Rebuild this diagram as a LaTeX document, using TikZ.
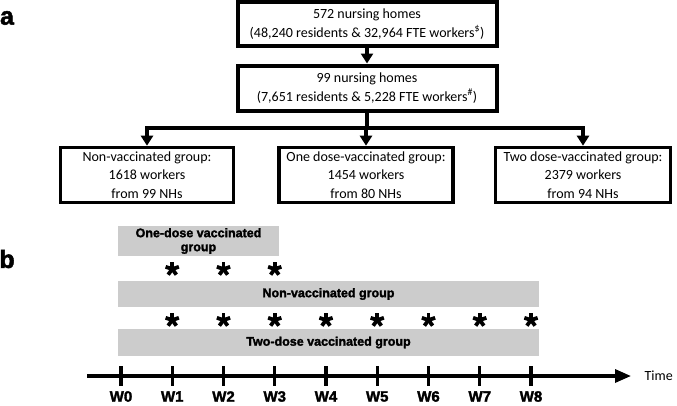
\documentclass[tikz,border=0pt]{standalone}
\usepackage{fontspec}
\setmainfont{Carlito}
\newfontfamily\arialfont{Liberation Sans}[BoldFeatures={FakeBold=2}]
\usetikzlibrary{arrows.meta}
\tikzset{
  flowbox/.style={draw, line width=4pt, align=center, inner sep=0pt, font=\fontsize{14}{18.5}\selectfont},
  flowarrow/.style={line width=3.2pt, -{Triangle[width=12pt,length=10pt]}},
  greybar/.style={fill=black!20, inner sep=0pt, align=center, font=\arialfont\bfseries\fontsize{12.5}{14}\selectfont},
  panel/.style={font=\arialfont\bfseries\fontsize{25}{25}\selectfont},
  wklabel/.style={font=\arialfont\bfseries\fontsize{15}{15}\selectfont},
  wkstar/.pic={\foreach \a in {90,18,162,234,306} \draw[line width=3.8pt] (0,0) -- (\a:7pt);}
}
\begin{document}
\begin{tikzpicture}[x=1pt,y=-1pt]
\useasboundingbox (0,0) rectangle (677,405);
\node[panel] (lbla) at (7,18) {a};
\node[panel] (lblb) at (7,259) {b};

\node[flowbox, minimum width=259pt, minimum height=44pt] (allnh) at (367,24)
  {572 nursing homes\\(48,240 residents \& 32,964 FTE workers\textsuperscript{\$})};
\node[flowbox, minimum width=259pt, minimum height=45pt] (selnh) at (367,88)
  {99 nursing homes\\(7,651 residents \& 5,228 FTE workers\textsuperscript{\#})};
\node[flowbox, line width=3.6pt, minimum width=173pt, minimum height=55pt] (nonvac) at (147,175)
  {Non-vaccinated group:\\1618 workers\\from 99 NHs};
\node[flowbox, line width=3.6pt, minimum width=174pt, minimum height=55pt] (onedose) at (366,175)
  {One dose-vaccinated group:\\1454 workers\\from 80 NHs};
\node[flowbox, line width=3.6pt, minimum width=175pt, minimum height=55pt] (twodose) at (583,175)
  {Two dose-vaccinated group:\\2379 workers\\from 94 NHs};
\coordinate (split) at (367,128);
\draw[flowarrow] (allnh.south) -- (selnh.north);
\draw[line width=3.2pt] (selnh.south) -- (split);
\foreach \g in {nonvac,onedose,twodose}
  \draw[flowarrow] (split) -| (\g.north);

\node[greybar, minimum width=161pt, minimum height=30pt] (onebar) at (198.5,241) {One-dose vaccinated\\group};
\node[greybar, minimum width=421pt, minimum height=26pt] (nonbar) at (328.5,294) {Non-vaccinated group};
\node[greybar, minimum width=421pt, minimum height=27pt] (twobar) at (328.5,342.5) {Two-dose vaccinated group};
\foreach \i in {1,2,3}
  \pic at (121+51.25*\i,269) {wkstar};
\foreach \i in {1,...,8}
  \pic at (121+51.25*\i,320) {wkstar};

\coordinate (axstart) at (87,376);
\coordinate (axend) at (631,376);
\draw[line width=3.2pt, -{Triangle[width=13pt,length=16pt]}] (axstart) -- (axend);
\node[anchor=west, font=\fontsize{14}{14}\selectfont] (timelbl) at (641,376) {Time};
\foreach \i in {0,...,8} {
  \draw[line width=3.2pt] (121+51.25*\i,366) -- (121+51.25*\i,386);
  \node[wklabel] (wk\i) at (121+51.25*\i,396.5) {W\i};
}
\end{tikzpicture}
\end{document}
